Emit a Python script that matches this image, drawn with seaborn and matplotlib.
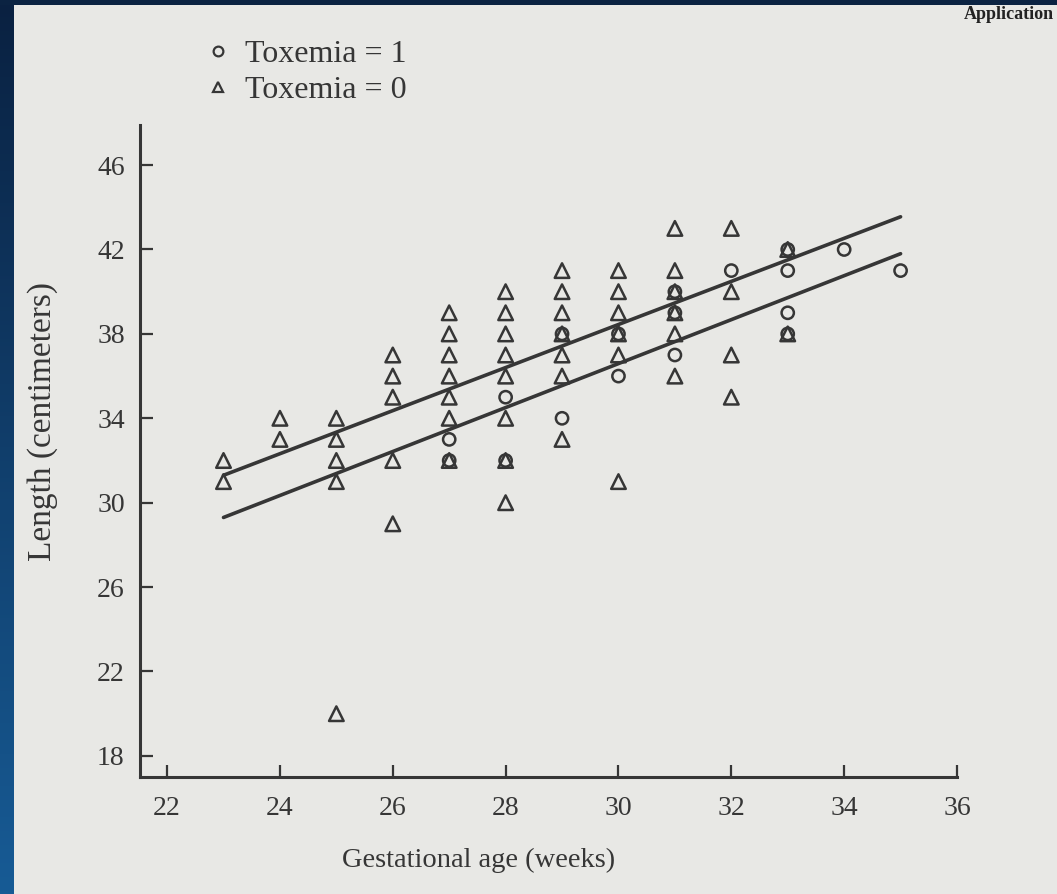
import numpy as np
import pandas as pd
import matplotlib
matplotlib.use("Agg")
import matplotlib.pyplot as plt
import seaborn as sns
from matplotlib.lines import Line2D
from matplotlib.patches import Rectangle
from matplotlib.colors import LinearSegmentedColormap

# ---------------- data ----------------
tox0_age = [23, 23, 24, 24, 25, 25, 25, 25, 25, 26, 26, 26, 26, 26,
            27, 27, 27, 27, 27, 27, 27, 28, 28, 28, 28, 28, 28, 28, 28,
            29, 29, 29, 29, 29, 29, 29, 30, 30, 30, 30, 30, 30,
            31, 31, 31, 31, 31, 31, 32, 32, 32, 32, 33, 33]
tox0_len = [32, 31, 34, 33, 34, 33, 32, 31, 20, 37, 36, 35, 32, 29,
            39, 38, 37, 36, 35, 34, 32, 40, 39, 38, 37, 36, 34, 32, 30,
            41, 40, 39, 38, 37, 36, 33, 41, 40, 39, 38, 37, 31,
            43, 41, 40, 39, 38, 36, 43, 40, 37, 35, 42, 38]

tox1_age = [27, 27, 28, 28, 29, 29, 30, 30, 31, 31, 31, 32, 33, 33, 33, 33, 34, 35]
tox1_len = [33, 32, 35, 32, 38, 34, 38, 36, 40, 39, 37, 41, 42, 41, 39, 38, 42, 41]

fit_age = [23, 35]
fit_tox0 = [31.3, 43.55]
fit_tox1 = [29.3, 41.8]

x_ticks = [22, 24, 26, 28, 30, 32, 34, 36]
y_ticks = [18, 22, 26, 30, 34, 38, 42, 46]

legend_labels = ["Toxemia = 1", "Toxemia = 0"]
x_label = "Gestational age (weeks)"
y_label = "Length (centimeters)"
running_head = "Application"

# ---------------- styling ----------------
sns.set_style("ticks")
plt.rcParams["font.family"] = ["Liberation Serif", "DejaVu Serif"]

INK = "#363636"
PAGE = "#e8e8e5"

W, H = 1057, 894
fig = plt.figure(figsize=(W / 100, H / 100), dpi=100, facecolor=PAGE)

ax = fig.add_axes([140 / W, 1 - 777 / H, (957 - 140) / W, (777 - 125) / H])
ax.set_facecolor(PAGE)

df0 = pd.DataFrame({"age": tox0_age, "length": tox0_len})
df1 = pd.DataFrame({"age": tox1_age, "length": tox1_len})
fit = pd.DataFrame({"age": fit_age, "t0": fit_tox0, "t1": fit_tox1})

sns.lineplot(data=fit, x="age", y="t0", ax=ax, color=INK, linewidth=2.6, zorder=2)
sns.lineplot(data=fit, x="age", y="t1", ax=ax, color=INK, linewidth=2.6, zorder=2)

sns.scatterplot(data=df0, x="age", y="length", ax=ax, marker="^", s=110,
                facecolor="none", edgecolor=INK, linewidth=1.8, zorder=3)
sns.scatterplot(data=df1, x="age", y="length", ax=ax, marker="o", s=78,
                facecolor="none", edgecolor=INK, linewidth=1.8, zorder=3)

ax.set_xlim(21.52, 36.0)
ax.set_ylim(17.0, 47.9)
ax.set_xticks(x_ticks)
ax.set_yticks(y_ticks)
ax.set_xticklabels([str(v) for v in x_ticks])
ax.set_yticklabels([str(v) for v in y_ticks])

for side in ["top", "right"]:
    ax.spines[side].set_visible(False)
for side in ["left", "bottom"]:
    ax.spines[side].set_linewidth(2.2)
    ax.spines[side].set_color(INK)

ax.tick_params(axis="both", direction="in", length=9, width=1.6, color=INK,
               labelcolor=INK, labelsize=20)
ax.tick_params(axis="y", pad=11)
ax.tick_params(axis="x", pad=14)

ax.set_xlabel(x_label, fontsize=20.5, color=INK)
ax.set_ylabel(y_label, fontsize=24, color=INK)
ax.xaxis.set_label_coords(0.414, -0.108)
ax.yaxis.set_label_coords(-0.100, 0.545)

handles = [
    Line2D([], [], ls="", marker="o", ms=7, mfc="none", mec=INK, mew=1.6, label=legend_labels[0]),
    Line2D([], [], ls="", marker="^", ms=7.5, mfc="none", mec=INK, mew=1.6, label=legend_labels[1]),
]
leg = ax.legend(handles=handles, loc="upper left", bbox_to_anchor=(205 / W, 1 - 40 / H),
                bbox_transform=fig.transFigure, frameon=False, fontsize=23,
                handlelength=0.8, handletextpad=0.45, labelspacing=0.2,
                borderpad=0, borderaxespad=0)
for t in leg.get_texts():
    t.set_color(INK)

# running head of the scanned page, top right
fig.text(0.997, 1 - 6 / H, running_head, ha="right", va="top", fontsize=13,
         fontweight="bold", color="#222222")

# slide frame: dark band on top, gradient strip on the left
fig.add_artist(Rectangle((0, 1 - 5 / H), 1, 5 / H, transform=fig.transFigure,
                         facecolor="#0b2342", edgecolor="none", zorder=10))
strip = fig.add_axes([0, 0, 14 / W, 1])
grad = np.linspace(0, 1, 256).reshape(-1, 1)
cmap = LinearSegmentedColormap.from_list("frame", ["#0a2141", "#175b95"])
strip.imshow(grad, aspect="auto", cmap=cmap, extent=[0, 1, 0, 1], origin="upper")
strip.axis("off")

fig.savefig("out.png", dpi=100, facecolor=PAGE)
